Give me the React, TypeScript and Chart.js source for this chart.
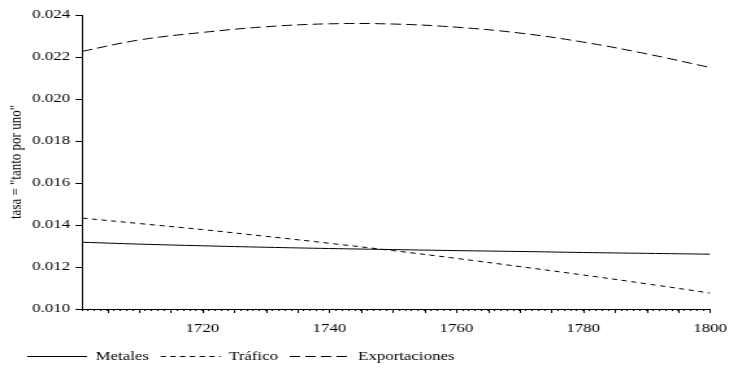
import React, { useEffect, useRef } from "react";
import { Chart, registerables } from "chart.js";

Chart.register(...registerables);

const years = [1701, 1710, 1720, 1730, 1740, 1750, 1760, 1770, 1780, 1790, 1800];
const metales = [0.01318, 0.01309, 0.01301, 0.01294, 0.01288, 0.01283, 0.01278, 0.01274, 0.01269, 0.01265, 0.01261];
const trafico = [0.01433, 0.01407, 0.01378, 0.01346, 0.01313, 0.01278, 0.01241, 0.01202, 0.01162, 0.0112, 0.01076];
const exportaciones = [0.02227, 0.02281, 0.02317, 0.02344, 0.02358, 0.02357, 0.02342, 0.02314, 0.02271, 0.02215, 0.0215];

const seriesNames = ["Metales", "Tráfico", "Exportaciones"];
const seriesDashes = [[], [4, 3.5], [8, 4]];
const xMin = 1701;
const xMax = 1800;
const yMin = 0.01;
const yMax = 0.024;
const yStep = 0.002;
const xLabelStep = 20;
const xMajorTickStep = 5;
const yTitle = 'tasa = "tanto por uno"';

// The reference image is horizontally stretched; emulate by CSS-scaling the canvas.
const OUT_W = 729;
const OUT_H = 368;
const STRETCH = 1.3;
const IN_W = Math.round(OUT_W / STRETCH);
const PAD_RIGHT = 14.6;

const majorTicks = {
  id: "majorTicks",
  afterDraw(chart: any) {
    const s = chart.scales.x;
    const ctx = chart.ctx;
    ctx.save();
    ctx.strokeStyle = "#000";
    ctx.lineWidth = 1;
    ctx.beginPath();
    for (let v = Math.ceil(xMin / xMajorTickStep) * xMajorTickStep; v <= xMax; v += xMajorTickStep) {
      const px = Math.round(s.getPixelForValue(v)) + 0.5;
      ctx.moveTo(px, s.top);
      ctx.lineTo(px, s.top + 4);
    }
    ctx.stroke();
    ctx.restore();
  },
};

export default function App() {
  const ref = useRef<HTMLCanvasElement | null>(null);
  useEffect(() => {
    if (!ref.current) return;
    Chart.defaults.font.family = "'Liberation Serif', 'Times New Roman', serif";
    Chart.defaults.font.size = 13;
    Chart.defaults.color = "#000";
    const mk = (vals: number[]) => years.map((y, i) => ({ x: y, y: vals[i] }));
    const series = [metales, trafico, exportaciones];
    const chart = new Chart(ref.current, {
      type: "line",
      data: {
        datasets: series.map((vals, i) => ({
          label: seriesNames[i],
          data: mk(vals),
          borderColor: "#000",
          backgroundColor: "#000",
          borderWidth: 1,
          pointRadius: 0,
          tension: 0.4,
          borderDash: seriesDashes[i],
        })),
      },
      options: {
        responsive: false,
        animation: false,
        devicePixelRatio: 1,
        layout: { padding: { left: 12, right: PAD_RIGHT, top: 15, bottom: -5 } },
        plugins: {
          legend: {
            position: "bottom",
            align: "start",
            labels: {
              usePointStyle: true,
              pointStyle: "line",
              pointStyleWidth: 46,
              boxWidth: 46,
              padding: 9,
              color: "#000",
              font: { size: 13 },
              generateLabels: (c: any) =>
                (Chart.defaults.plugins.legend.labels as any).generateLabels(c).map((l: any) => ({
                  ...l,
                  lineDash: seriesDashes[l.datasetIndex],
                  lineWidth: 1,
                  strokeStyle: "#000",
                  fillStyle: "#000",
                  pointStyle: "line",
                })),
            },
          },
          tooltip: { enabled: false },
        },
        scales: {
          x: {
            type: "linear",
            min: xMin,
            max: xMax,
            afterFit: (s: any) => {
              s.height = 32;
              s.paddingRight = PAD_RIGHT;
              s.paddingLeft = 0;
            },
            border: { display: true, color: "#000", width: 1 },
            grid: { display: true, drawOnChartArea: false, drawTicks: true, tickLength: 2, tickColor: "#000" },
            ticks: {
              stepSize: 1,
              autoSkip: false,
              maxRotation: 0,
              padding: 10,
              color: "#000",
              callback: (v: any) => (Number(v) % xLabelStep === 0 ? String(v) : ""),
            },
          },
          y: {
            type: "linear",
            min: yMin,
            max: yMax,
            afterFit: (s: any) => { s.width = 51.1; },
            border: { display: true, color: "#000", width: 1 },
            grid: { display: true, drawOnChartArea: false, drawTicks: true, tickLength: 5, tickColor: "#000" },
            ticks: {
              stepSize: yStep,
              padding: 4,
              color: "#000",
              callback: (v: any) => Number(v).toFixed(3),
            },
            title: { display: true, text: yTitle, color: "#000", font: { size: 13 }, padding: { top: -7, bottom: 0 } },
          },
        },
      },
      plugins: [majorTicks],
    });
    return () => chart.destroy();
  }, []);
  return (
    <div style={{ position: "fixed", left: 0, top: 0, width: OUT_W, height: OUT_H, background: "#fff" }}>
      <canvas ref={ref} width={IN_W} height={OUT_H} style={{ width: OUT_W + "px", height: OUT_H + "px", display: "block" }} />
    </div>
  );
}
